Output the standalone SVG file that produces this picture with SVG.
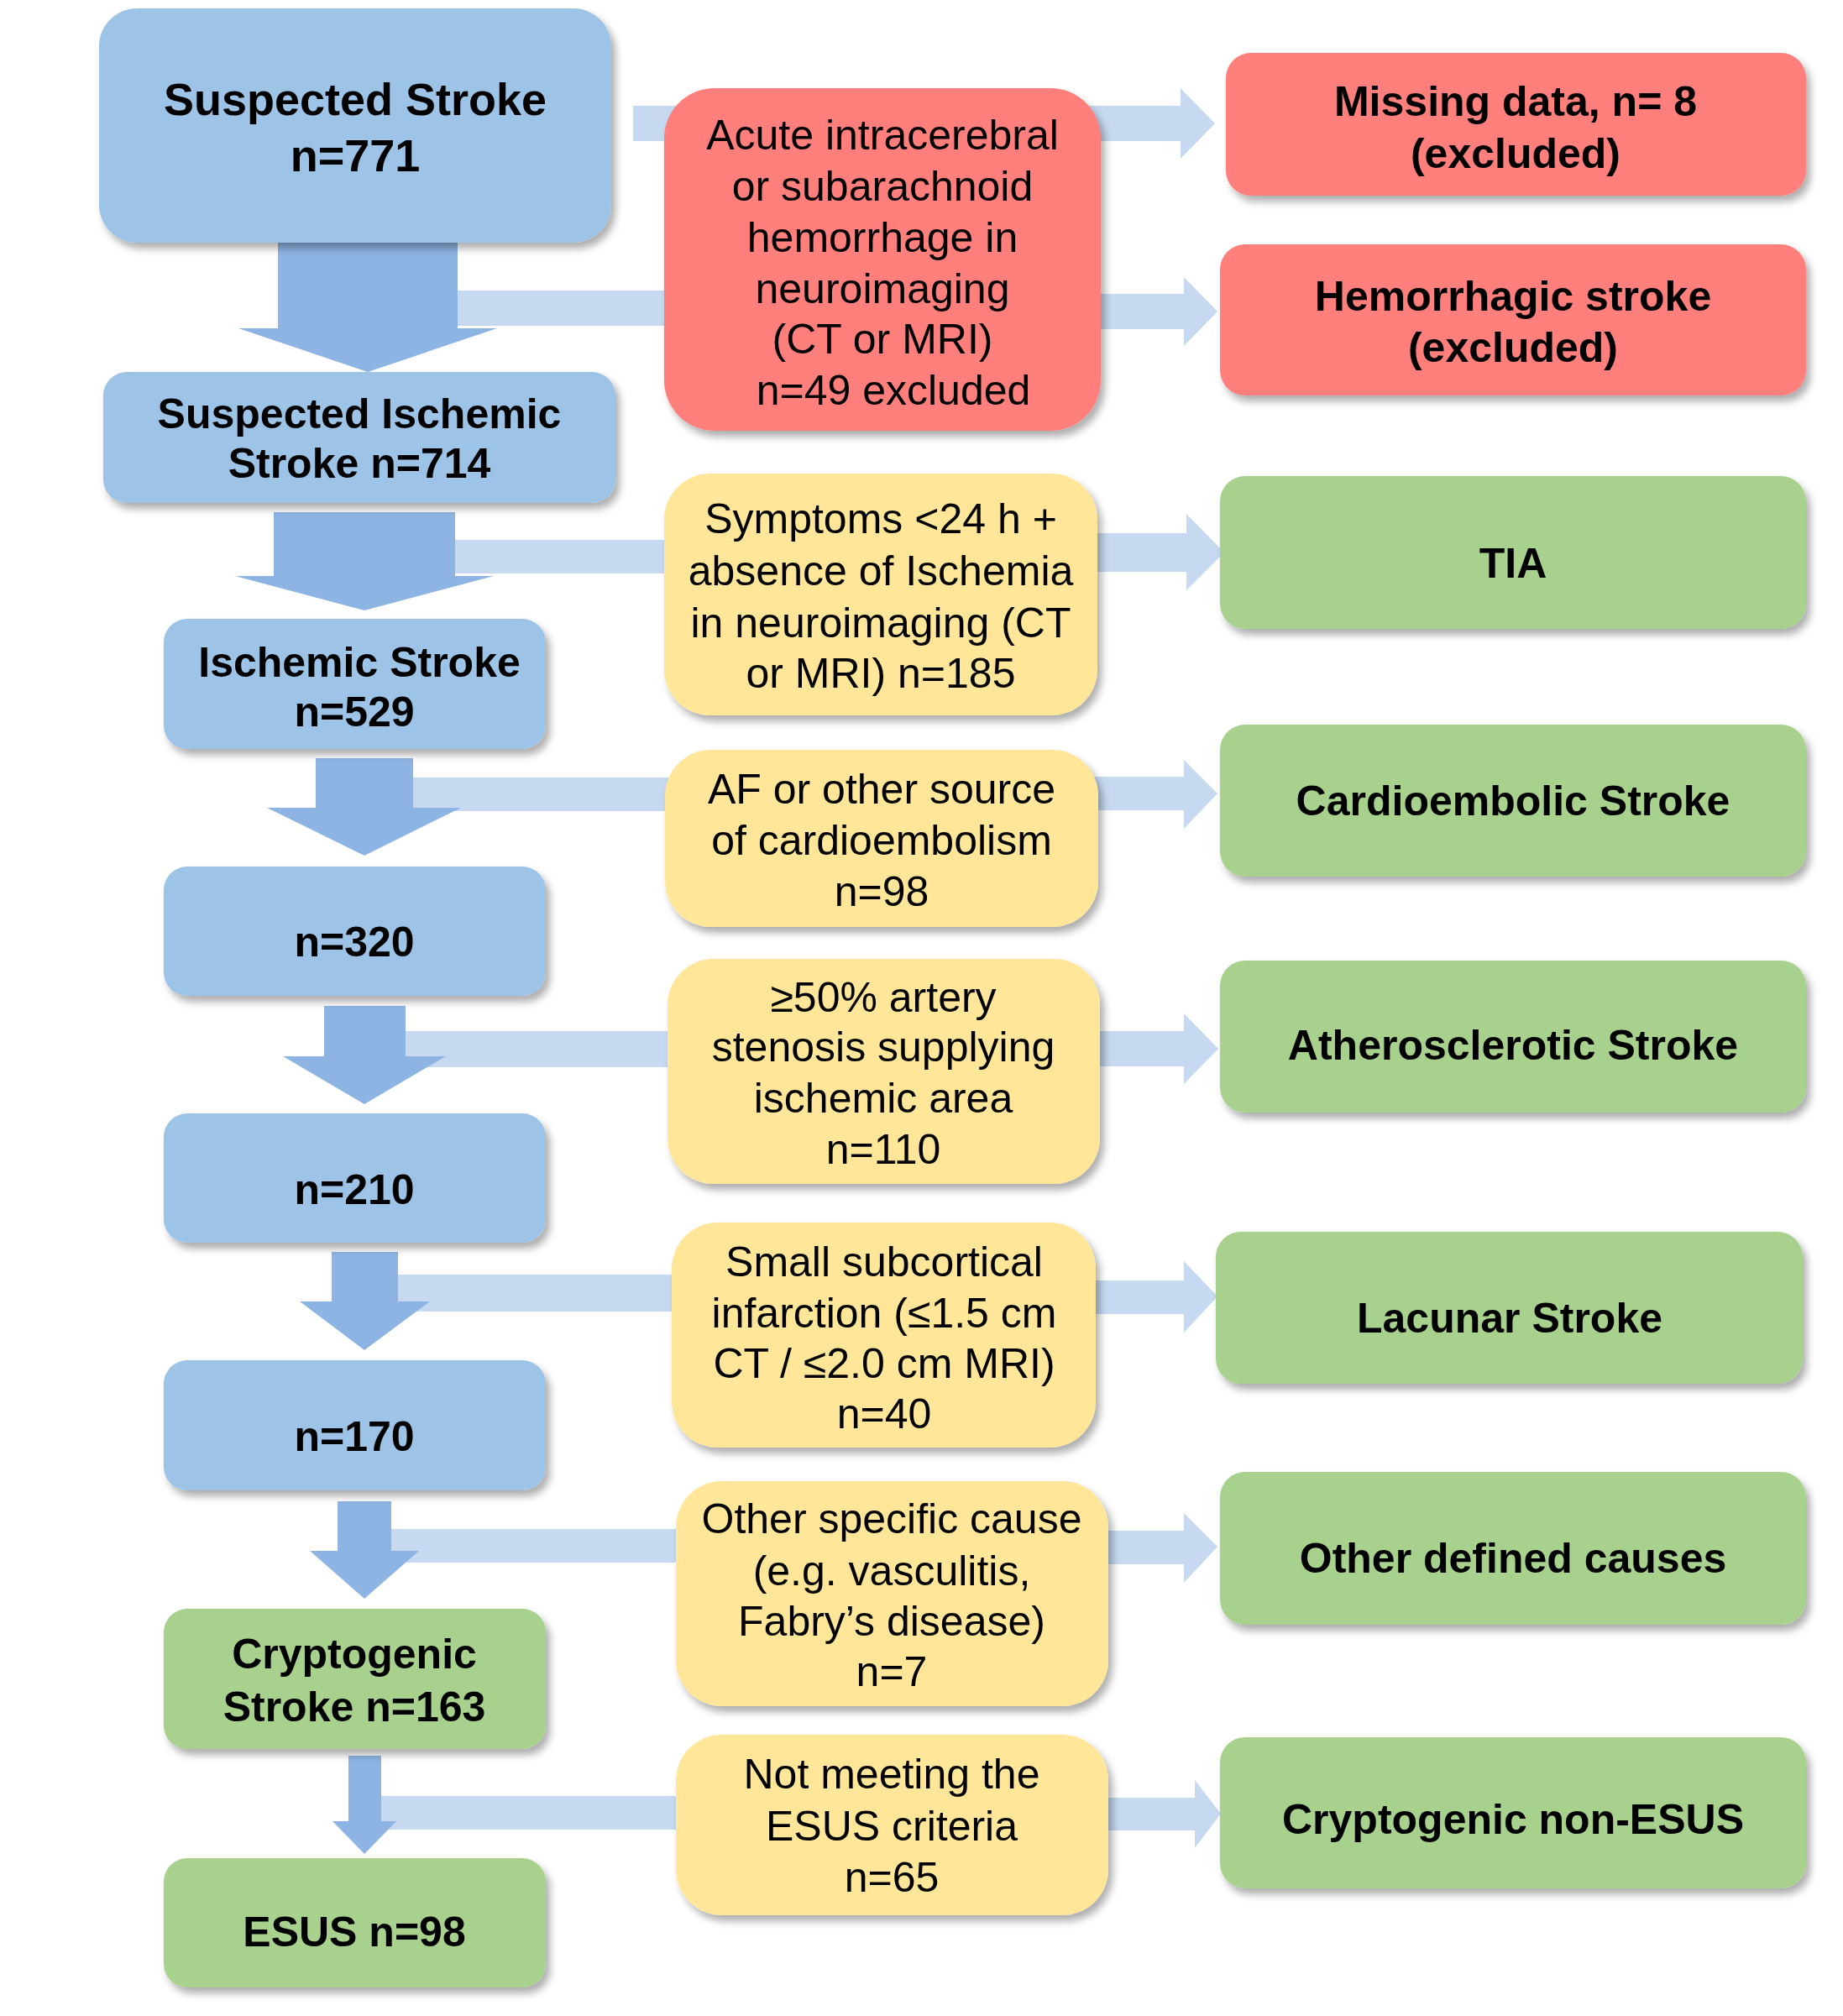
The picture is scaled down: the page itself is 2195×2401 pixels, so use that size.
<svg xmlns="http://www.w3.org/2000/svg" width="2195" height="2401" viewBox="0 0 2195 2401">
<defs>
<filter id="sh" x="-10%" y="-10%" width="125%" height="130%">
<feDropShadow dx="5" dy="7" stdDeviation="5" flood-color="#000" flood-opacity="0.32"/>
</filter>
<style>
.blue{fill:#9DC3E6;filter:url(#sh)}
.red{fill:#FF7F7B;filter:url(#sh)}
.yel{fill:#FFE699;filter:url(#sh)}
.grn{fill:#A9D18E;filter:url(#sh)}
.dn{fill:#8EB4E3}
.lt{fill:#C6D9F0}
text{font-family:"Liberation Sans",Arial,sans-serif;font-size:50px;text-anchor:middle;fill:#000}
.b{font-weight:bold}
</style>
</defs>
<rect width="2195" height="2401" fill="#FFFFFF"/>
<g id="connectors">
<rect class="lt" x="754" y="126" width="60" height="42"/>
<rect class="lt" x="544" y="346" width="260" height="42"/>
<rect class="lt" x="541" y="643" width="260" height="40"/>
<rect class="lt" x="491" y="926" width="310" height="40"/>
<rect class="lt" x="482" y="1228" width="320" height="43"/>
<rect class="lt" x="473" y="1518" width="340" height="44"/>
<rect class="lt" x="465" y="1821" width="350" height="40"/>
<rect class="lt" x="453" y="2139" width="362" height="40"/>
<polygon class="lt" points="1290,126 1406,126 1406,105 1447,147 1406,189 1406,168 1290,168"/>
<polygon class="lt" points="1290,350 1410,350 1410,330 1450,371 1410,412 1410,392 1290,392"/>
<polygon class="lt" points="1290,635 1413,635 1413,612 1458,658 1413,703 1413,681 1290,681"/>
<polygon class="lt" points="1290,925 1410,925 1410,905 1450,945 1410,987 1410,965 1290,965"/>
<polygon class="lt" points="1290,1228 1410,1228 1410,1207 1451,1249 1410,1291 1410,1270 1290,1270"/>
<polygon class="lt" points="1290,1525 1410,1525 1410,1502 1450,1544 1410,1587 1410,1565 1290,1565"/>
<polygon class="lt" points="1300,1823 1410,1823 1410,1802 1450,1842 1410,1885 1410,1863 1300,1863"/>
<polygon class="lt" points="1300,2141 1423,2141 1423,2120 1454,2160 1423,2201 1423,2180 1300,2180"/>
<polygon class="dn" points="331,285 545,285 545,391 592,391 438,443 284,391 331,391"/>
<polygon class="dn" points="326,610 542,610 542,686 588,686 434,727 280,686 326,686"/>
<polygon class="dn" points="376,903 492,903 492,962 549,962 434,1019 318,962 376,962"/>
<polygon class="dn" points="386,1198 483,1198 483,1258 531,1258 434,1315 337,1258 386,1258"/>
<polygon class="dn" points="395,1491 474,1491 474,1550 512,1550 434,1608 357,1550 395,1550"/>
<polygon class="dn" points="402,1788 466,1788 466,1847 499,1847 434,1904 369,1847 402,1847"/>
<polygon class="dn" points="415,2091 454,2091 454,2169 472,2169 434,2208 396,2169 415,2169"/>
</g>
<g id="n-suspected-stroke">
<rect class="blue" x="118" y="10" width="610" height="279" rx="45"/>
<text class="b" x="423" y="137" style="font-size:54px">Suspected Stroke</text>
<text class="b" x="423" y="204" style="font-size:54px">n=771</text>
</g>
<g id="n-suspected-ischemic">
<rect class="blue" x="123" y="443" width="610" height="156" rx="28"/>
<text class="b" x="428" y="510">Suspected Ischemic</text>
<text class="b" x="428" y="569">Stroke n=714</text>
</g>
<g id="n-ischemic">
<rect class="blue" x="195" y="737" width="455" height="155" rx="28"/>
<text class="b" x="428" y="806">Ischemic Stroke</text>
<text class="b" x="422" y="865">n=529</text>
</g>
<g id="n-320">
<rect class="blue" x="195" y="1032" width="455" height="154" rx="28"/>
<text class="b" x="422" y="1139">n=320</text>
</g>
<g id="n-210">
<rect class="blue" x="195" y="1326" width="455" height="154" rx="28"/>
<text class="b" x="422" y="1434">n=210</text>
</g>
<g id="n-170">
<rect class="blue" x="195" y="1620" width="455" height="155" rx="28"/>
<text class="b" x="422" y="1728">n=170</text>
</g>
<g id="n-cryptogenic">
<rect class="grn" x="195" y="1916" width="455" height="167" rx="28"/>
<text class="b" x="422" y="1987">Cryptogenic</text>
<text class="b" x="422" y="2050">Stroke n=163</text>
</g>
<g id="n-esus">
<rect class="grn" x="195" y="2213" width="455" height="154" rx="28"/>
<text class="b" x="422" y="2318">ESUS n=98</text>
</g>
<g id="n-acute">
<rect class="red" x="791" y="105" width="520" height="408" rx="60"/>
<text x="1051" y="178">Acute intracerebral</text>
<text x="1051" y="239">or subarachnoid</text>
<text x="1051" y="300">hemorrhage in</text>
<text x="1051" y="361">neuroimaging</text>
<text x="1051" y="421">(CT or MRI)</text>
<text x="1064" y="482">n=49 excluded</text>
</g>
<g id="n-missing">
<rect class="red" x="1460" y="63" width="691" height="170" rx="30"/>
<text class="b" x="1805" y="138">Missing data, n= 8</text>
<text class="b" x="1805" y="200">(excluded)</text>
</g>
<g id="n-hemorrhagic">
<rect class="red" x="1453" y="291" width="698" height="180" rx="30"/>
<text class="b" x="1802" y="370">Hemorrhagic stroke</text>
<text class="b" x="1802" y="431">(excluded)</text>
</g>
<g id="n-symptoms">
<rect class="yel" x="791" y="564" width="516" height="288" rx="55"/>
<text x="1049" y="635">Symptoms &lt;24 h +</text>
<text x="1049" y="697">absence of Ischemia</text>
<text x="1049" y="759">in neuroimaging (CT</text>
<text x="1049" y="819">or MRI) n=185</text>
</g>
<g id="n-af">
<rect class="yel" x="792" y="893" width="516" height="211" rx="55"/>
<text x="1050" y="957">AF or other source</text>
<text x="1050" y="1018">of cardioembolism</text>
<text x="1050" y="1079">n=98</text>
</g>
<g id="n-stenosis">
<rect class="yel" x="795" y="1142" width="515" height="268" rx="55"/>
<text x="1052" y="1205">≥50% artery</text>
<text x="1052" y="1264">stenosis supplying</text>
<text x="1052" y="1325">ischemic area</text>
<text x="1052" y="1386">n=110</text>
</g>
<g id="n-small">
<rect class="yel" x="800" y="1456" width="505" height="268" rx="55"/>
<text x="1053" y="1520">Small subcortical</text>
<text x="1053" y="1581">infarction (≤1.5 cm</text>
<text x="1053" y="1641">CT / ≤2.0 cm MRI)</text>
<text x="1053" y="1701">n=40</text>
</g>
<g id="n-other-specific">
<rect class="yel" x="805" y="1764" width="515" height="268" rx="55"/>
<text x="1062" y="1826">Other specific cause</text>
<text x="1062" y="1888">(e.g. vasculitis,</text>
<text x="1062" y="1948">Fabry’s disease)</text>
<text x="1062" y="2008">n=7</text>
</g>
<g id="n-not-meeting">
<rect class="yel" x="805" y="2066" width="515" height="215" rx="55"/>
<text x="1062" y="2130">Not meeting the</text>
<text x="1062" y="2192">ESUS criteria</text>
<text x="1062" y="2253">n=65</text>
</g>
<g id="n-tia">
<rect class="grn" x="1453" y="567" width="698" height="182" rx="30"/>
<text class="b" x="1802" y="688">TIA</text>
</g>
<g id="n-cardio">
<rect class="grn" x="1453" y="863" width="698" height="181" rx="30"/>
<text class="b" x="1802" y="971">Cardioembolic Stroke</text>
</g>
<g id="n-athero">
<rect class="grn" x="1453" y="1144" width="698" height="181" rx="30"/>
<text class="b" x="1802" y="1262">Atherosclerotic Stroke</text>
</g>
<g id="n-lacunar">
<rect class="grn" x="1448" y="1467" width="699" height="181" rx="30"/>
<text class="b" x="1798" y="1587">Lacunar Stroke</text>
</g>
<g id="n-other-defined">
<rect class="grn" x="1453" y="1753" width="698" height="182" rx="30"/>
<text class="b" x="1802" y="1873">Other defined causes</text>
</g>
<g id="n-non-esus">
<rect class="grn" x="1453" y="2069" width="698" height="180" rx="30"/>
<text class="b" x="1802" y="2184">Cryptogenic non-ESUS</text>
</g>
</svg>
